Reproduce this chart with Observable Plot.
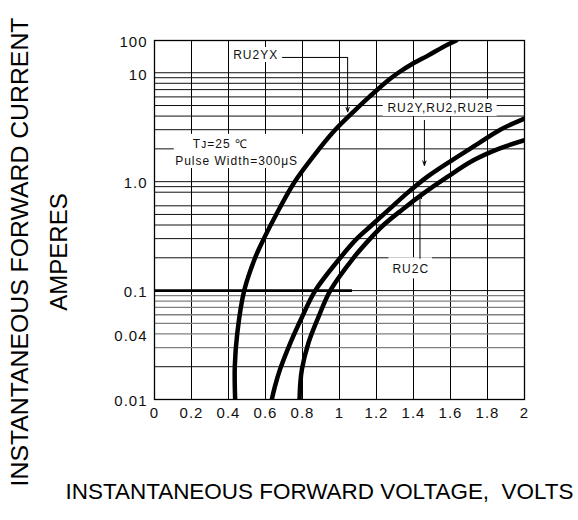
<!DOCTYPE html>
<html><head><meta charset="utf-8">
<script src="https://cdn.jsdelivr.net/npm/d3@7"></script>
<script src="https://cdn.jsdelivr.net/npm/@observablehq/plot@0.6"></script>
<style>
html,body{margin:0;padding:0;background:#fff;}
#chart svg{display:block;}
g[aria-label="x-axis tick label"] text, g[aria-label="y-axis tick label"] text{font-size:15px;letter-spacing:1px;fill:#111;}
</style></head><body><div id="chart"></div>
<script>
// axis ticks
const voltTicks = [0,0.2,0.4,0.6,0.8,1,1.2,1.4,1.6,1.8,2];
const voltLabels = ["0","0.2","0.4","0.6","0.8","1","1.2","1.4","1.6","1.8","2"];
const ampTicks = [100,10,1,0.1,0.04,0.01];
const ampLabels = ["100","10","1.0","0.1","0.04","0.01"];
// horizontal grid lines (amperes)
const gridAmpsDark = [0.02,0.1,0.2,0.3,0.4,0.5,0.6,0.8,0.9,1,2,3,4,5,6,7,8,9,10];
const gridAmpsGray = [0.03,0.04,0.05,0.06,0.07,0.08,0.09];
const heavyAmp = 0.1, heavyVoltEnd = 1.07;

// curves: forward voltage (V) vs forward current (A)
const ru2yxV = [0.436,0.434,0.447,0.485,0.544,0.591,0.658,0.758,0.890,0.977,1.082,1.161,1.262,1.318,1.395,1.478,1.558,1.631];
const ru2yxI = [0.01,0.02,0.04,0.1,0.2,0.3,0.5,1.0,2.0,3.0,4.5,6.0,8.5,10,19,34,62,100];
const ru2yV  = [0.634,0.65,0.679,0.734,0.797,0.869,1.004,1.094,1.175,1.265,1.364,1.472,1.607,1.743,1.869,2.0];
const ru2yI  = [0.01,0.013,0.019,0.033,0.057,0.1,0.2,0.3,0.4,0.55,0.78,1.1,1.57,2.2,3.0,3.8];
const ru2cV  = [0.784,0.788,0.797,0.832,0.886,0.950,1.076,1.166,1.238,1.337,1.454,1.581,1.724,1.86,2.0];
const ru2cI  = [0.01,0.014,0.019,0.033,0.057,0.1,0.2,0.3,0.4,0.55,0.78,1.1,1.57,2.0,2.4];

// annotations (in data units)
const labelText = ["RU2YX","RU2Y,RU2,RU2B","RU2C","Tᴊ=25 ℃","Pulse Width=300μS"];
const labelV    = [0.547,1.546,1.385,0.356,0.444];
const labelI    = [35.6,4.75,0.158,2.2,1.55];
const boxV1 = [0.416,1.236,1.267,0.107];
const boxV2 = [0.678,1.852,1.503,0.89];
const boxI1 = [20.8,3.97,0.128,1.32];
const boxI2 = [60.7,5.69,0.2,2.72];
const leaderV1 = [0.69], leaderV2 = [1.044], leaderI = [29.8];
const arrowV  = [1.044,1.459,1.435];
const arrowI1 = [29.8,3.65,0.198];
const arrowI2 = [4.37,1.41,0.766];

// compressed top decade (10..100)
const topK = 0.296;
const f = (a) => { const l = Math.log10(a); return l <= 1 ? l : 1 + (l - 1) * topK; };

const series = [
  ...ru2yxV.map((v,i)=>({s:"RU2YX", V:v, I:ru2yxI[i]})),
  ...ru2yV.map((v,i)=>({s:"RU2Y", V:v, I:ru2yI[i]})),
  ...ru2cV.map((v,i)=>({s:"RU2C", V:v, I:ru2cI[i]}))
];
const labels = labelText.map((t,i)=>({t, V:labelV[i], I:labelI[i]}));
const boxes = boxV1.map((v,i)=>({v1:v, v2:boxV2[i], i1:boxI1[i], i2:boxI2[i]}));
const arrows = arrowV.map((v,i)=>({v, i1:arrowI1[i], i2:arrowI2[i]}));
const leaders = leaderV1.map((v,i)=>({v1:v, v2:leaderV2[i], i:leaderI[i]}));

const xLab = new Map(voltTicks.map((v,i)=>[v, voltLabels[i]]));
const yLab = new Map(ampTicks.map((v,i)=>[f(v), ampLabels[i]]));
const xTitle = "INSTANTANEOUS FORWARD VOLTAGE,  VOLTS";

const chart = Plot.plot({
  width: 578, height: 520,
  marginLeft: 154, marginRight: 54, marginTop: 40, marginBottom: 121,
  style: {fontFamily: "'Liberation Sans', Arial, sans-serif", background: "#fff", color: "#000"},
  x: {domain: [0, 2]},
  y: {domain: [f(0.01), f(100)]},
  marks: [
    Plot.ruleX(voltTicks, {stroke: "#000", strokeWidth: 1}),
    Plot.ruleY(gridAmpsGray, {y: f, stroke: "#808080", strokeWidth: 1.3}),
    Plot.ruleY(gridAmpsDark, {y: f, stroke: "#111", strokeWidth: 1}),
    Plot.ruleY([heavyAmp], {y: f, x1: 0, x2: heavyVoltEnd, stroke: "#000", strokeWidth: 2.6}),
    Plot.frame({stroke: "#000", strokeWidth: 1.3}),
    Plot.rect(boxes, {x1: "v1", x2: "v2", y1: d => f(d.i1), y2: d => f(d.i2), fill: "white"}),
    Plot.line(series, {x: "V", y: d => f(d.I), z: "s", stroke: "#000", strokeWidth: 4.5, curve: "catmull-rom", clip: true}),
    Plot.link(leaders, {x1: "v1", x2: "v2", y1: d => f(d.i), y2: d => f(d.i), stroke: "#000", strokeWidth: 1}),
    Plot.arrow(arrows, {x1: "v", x2: "v", y1: d => f(d.i1), y2: d => f(d.i2), stroke: "#000", strokeWidth: 1, headLength: 7, headAngle: 40}),
    Plot.text(labels, {x: "V", y: d => f(d.I), text: "t", textAnchor: "middle", fontSize: 12, fill: "#111"}),
    Plot.axisX(voltTicks, {tickSize: 0, tickPadding: 8, tickFormat: d => xLab.get(d), label: null}),
    Plot.axisY(ampTicks.map(f), {tickSize: 0, tickPadding: 7, tickFormat: d => yLab.get(d), label: null, dy: 2}),
    Plot.text(["INSTANTANEOUS FORWARD CURRENT"], {frameAnchor: "left", dx: -134, dy: 32, rotate: -90, fontSize: 24.8, textAnchor: "middle", fill: "#000"}),
    Plot.text(["AMPERES"], {frameAnchor: "left", dx: -95, dy: 32, rotate: -90, fontSize: 24, textAnchor: "middle", fill: "#000"}),
    Plot.text([xTitle], {frameAnchor: "bottom-left", dx: -89, dy: 99, fontSize: 21.9, textAnchor: "start", fill: "#000"})
  ]
});
document.getElementById("chart").appendChild(chart);
// letter spacing for the annotation labels
d3.select(chart).selectAll("text")
  .filter(function() { return labelText.includes(this.textContent); })
  .style("letter-spacing", "1px");
// stretch the x title to the reference's width
d3.select(chart).selectAll("text")
  .filter(function() { return this.textContent === xTitle; })
  .attr("textLength", 508).attr("lengthAdjust", "spacingAndGlyphs");
</script></body></html>
